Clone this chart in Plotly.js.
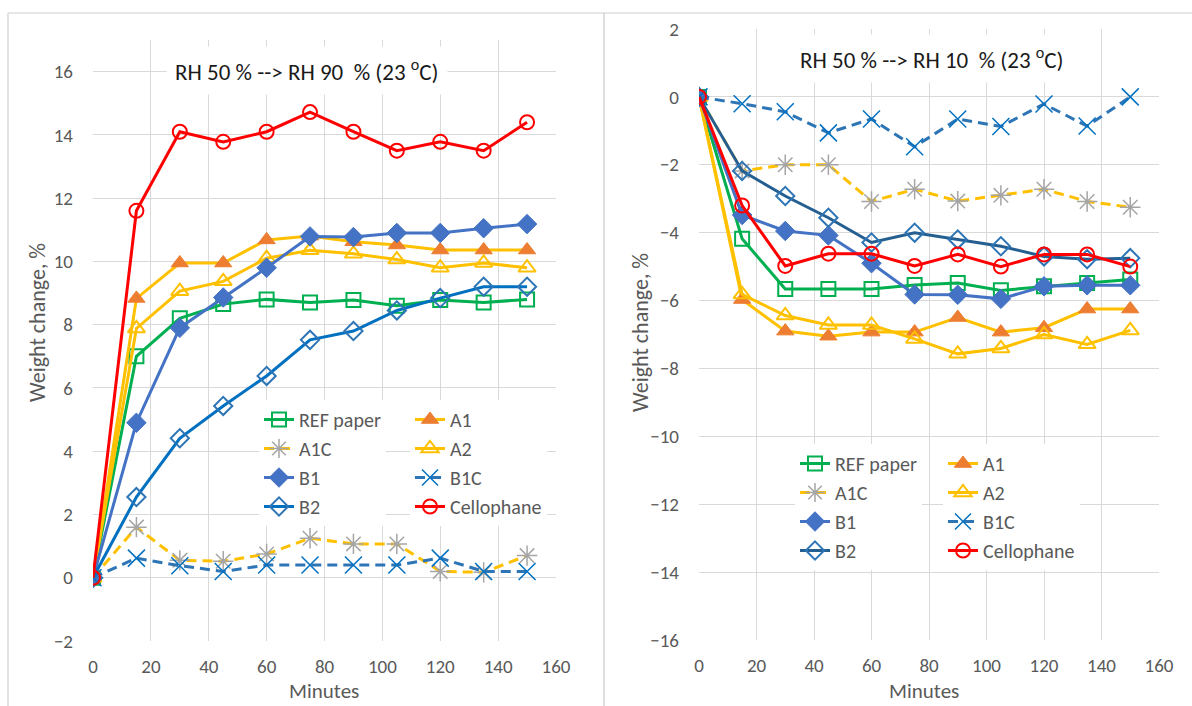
<!DOCTYPE html>
<html>
<head>
<meta charset="utf-8">
<script src="https://cdn.plot.ly/plotly-3.0.1.min.js"></script>
<style>html,body{margin:0;padding:0;background:#fff;}#chart{width:1192px;height:706px;}</style>
</head>
<body>
<div id="chart"></div>
<script>
// ---- data ----
const minutes = [0, 15, 30, 45, 60, 75, 90, 105, 120, 135, 150];
const seriesNames = ["REF paper", "A1", "A1C", "A2", "B1", "B1C", "B2", "Cellophane"];

// RH 50 % --> RH 90 % (left panel)
const up_REF   = [0, 7.0, 8.2, 8.65, 8.8, 8.7, 8.78, 8.6, 8.78, 8.7, 8.8];
const up_A1    = [0, 8.83, 9.95, 9.95, 10.68, 10.8, 10.62, 10.52, 10.36, 10.36, 10.36];
const up_A1C   = [0, 1.6, 0.55, 0.52, 0.75, 1.25, 1.07, 1.07, 0.2, 0.17, 0.7];
const up_A2    = [0, 7.88, 9.06, 9.37, 10.1, 10.35, 10.24, 10.06, 9.8, 9.95, 9.8];
const up_B1    = [0, 4.9, 7.9, 8.86, 9.8, 10.79, 10.77, 10.9, 10.9, 11.05, 11.18];
const up_B1C   = [0, 0.62, 0.38, 0.2, 0.4, 0.4, 0.4, 0.4, 0.62, 0.2, 0.2];
const up_B2    = [0, 2.55, 4.41, 5.43, 6.38, 7.52, 7.8, 8.45, 8.84, 9.2, 9.2];
const up_Cello = [0, 11.6, 14.1, 13.78, 14.1, 14.72, 14.1, 13.5, 13.78, 13.5, 14.4];

// RH 50 % --> RH 10 % (right panel)
const dn_REF   = [0, -4.18, -5.66, -5.66, -5.66, -5.54, -5.48, -5.7, -5.58, -5.48, -5.38];
const dn_A1    = [0, -5.97, -6.9, -7.05, -6.93, -6.93, -6.5, -6.93, -6.8, -6.25, -6.25];
const dn_A1C   = [0, -2.18, -2.0, -2.0, -3.08, -2.72, -3.07, -2.9, -2.72, -3.08, -3.25];
const dn_A2    = [0, -5.82, -6.44, -6.72, -6.72, -7.13, -7.57, -7.41, -7.0, -7.29, -6.88];
const dn_B1    = [0, -3.48, -3.95, -4.08, -4.9, -5.82, -5.83, -5.95, -5.58, -5.55, -5.55];
const dn_B1C   = [0, -0.2, -0.44, -1.06, -0.65, -1.47, -0.65, -0.87, -0.21, -0.86, 0];
const dn_B2    = [0, -2.18, -2.92, -3.56, -4.29, -4.0, -4.2, -4.4, -4.7, -4.78, -4.75];
const dn_Cello = [0, -3.2, -4.98, -4.62, -4.62, -4.98, -4.64, -5.0, -4.64, -4.64, -5.0];

const xTicks = [0, 20, 40, 60, 80, 100, 120, 140, 160];
const titleLeft = "RH 50 % --> RH 90\u00a0 % (23 <sup>o</sup>C)";
const titleRight = "RH 50 % --> RH 10\u00a0 % (23 <sup>o</sup>C)";
const yTitle = "Weight change, %";
const xTitle = "Minutes";

// ---- styles ----
const FONT = "Carlito, Lato, 'Open Sans', sans-serif";
const styles = {
  "REF paper": {line: {color: "#00b050", width: 3}, marker: {symbol: "square-open", size: 14, color: "#00b050", line: {color: "#00b050", width: 2}}},
  "A1": {line: {color: "#ffc000", width: 3}, marker: {symbol: "triangle-up", size: 15, color: "#ed7d31", line: {color: "#ed7d31", width: 1}}},
  "A1C": {line: {color: "#ffc000", width: 3, dash: "10px,6px"}, marker: {symbol: "asterisk-open", size: 17, color: "#a5a5a5", line: {color: "#a5a5a5", width: 1.5}}},
  "A2": {line: {color: "#ffc000", width: 3}, marker: {symbol: "triangle-up-open", size: 15, color: "#ffc000", line: {color: "#ffc000", width: 2}}},
  "B1": {line: {color: "#4472c4", width: 3}, marker: {symbol: "diamond", size: 15, color: "#4472c4", line: {color: "#4472c4", width: 1}}},
  "B1C": {line: {color: "#2e75b6", width: 3, dash: "10px,6px"}, marker: {symbol: "x-thin-open", size: 17, color: "#0070c0", line: {color: "#0070c0", width: 1.5}}},
  "B2": {line: {color: "#0070c0", width: 3}, marker: {symbol: "diamond-open", size: 14, color: "#2e75b6", line: {color: "#2e75b6", width: 2}}},
  "Cellophane": {line: {color: "#ff0000", width: 3}, marker: {symbol: "circle-open", size: 14, color: "#ff0000", line: {color: "#ff0000", width: 2}}}
};
const colOne = ["REF paper", "A1C", "B1", "B2"];

const upData = {"REF paper": up_REF, "A1": up_A1, "A1C": up_A1C, "A2": up_A2, "B1": up_B1, "B1C": up_B1C, "B2": up_B2, "Cellophane": up_Cello};
const dnData = {"REF paper": dn_REF, "A1": dn_A1, "A1C": dn_A1C, "A2": dn_A2, "B1": dn_B1, "B1C": dn_B1C, "B2": dn_B2, "Cellophane": dn_Cello};

const traces = [];
function addPanel(data, xa, ya, legA, legB, prefix, b2color) {
  seriesNames.forEach(function (name) {
    const st = JSON.parse(JSON.stringify(styles[name]));
    if (name === "B2" && b2color) st.line.color = b2color;
    traces.push({
      type: "scatter", mode: "lines+markers",
      x: minutes, y: data[name], name: name,
      xaxis: xa, yaxis: ya,
      line: st.line, marker: st.marker,
      legend: colOne.indexOf(name) >= 0 ? legA : legB,
      legendgroup: prefix + name,
      showlegend: true
    });
  });
}
addPanel(upData, "x", "y", "legend", "legend2", "u_", null);
addPanel(dnData, "x2", "y2", "legend3", "legend4", "d_", "#255e91");

const W = 1192, H = 706;
const px = v => v / W, py = v => 1 - v / H;

function xAxis(domain, anchor) {
  return {domain: domain, anchor: anchor, range: [0, 160], tickvals: xTicks, showgrid: true,
    gridcolor: "#d9d9d9", gridwidth: 1, zeroline: false, showline: false, ticks: "",
    tickfont: {family: FONT, size: 19, color: "#595959"}, ticklabelstandoff: 12, fixedrange: true};
}
function yAxis(domain, anchor, range) {
  return {domain: domain, anchor: anchor, range: range, dtick: 2, tick0: 0, showgrid: true,
    gridcolor: "#d9d9d9", gridwidth: 1, zeroline: false, showline: false, ticks: "",
    tickfont: {family: FONT, size: 19, color: "#595959"}, ticklabelstandoff: 19, fixedrange: true};
}
function legendAt(x, y) {
  return {x: x, y: y, xanchor: "left", yanchor: "top", orientation: "v", bgcolor: "#ffffff",
    borderwidth: 0, tracegroupgap: 0, font: {family: FONT, size: 20, color: "#595959"},
    itemclick: false, itemdoubleclick: false};
}

const layout = {
  width: W, height: H,
  margin: {l: 0, r: 0, t: 0, b: 0},
  paper_bgcolor: "#ffffff", plot_bgcolor: "rgba(0,0,0,0)",
  font: {family: FONT, color: "#595959"},
  xaxis: xAxis([px(93), px(556)], "y"),
  yaxis: yAxis([1 - 641 / H, 1 - 40 / H], "x", [-2, 17]),
  xaxis2: xAxis([px(699), px(1159)], "y2"),
  yaxis2: yAxis([1 - 640 / H, 1 - 29 / H], "x2", [-16, 2]),
  legend: legendAt(px(259), py(400)),
  legend2: legendAt(px(410), py(400)),
  legend3: legendAt(px(795), py(444)),
  legend4: legendAt(px(943), py(444)),
  annotations: [
    {text: titleLeft, xref: "paper", yref: "paper", x: px(307), y: py(71), xanchor: "center", yanchor: "middle",
      showarrow: false, bgcolor: "#ffffff", borderpad: 8, font: {family: FONT, size: 23, color: "#1a1a1a"}},
    {text: titleRight, xref: "paper", yref: "paper", x: px(932), y: py(59), xanchor: "center", yanchor: "middle",
      showarrow: false, bgcolor: "#ffffff", borderpad: 8, font: {family: FONT, size: 23, color: "#1a1a1a"}},
    {text: yTitle, xref: "paper", yref: "paper", x: px(37), y: py(323), textangle: -90, xanchor: "center", yanchor: "middle",
      showarrow: false, font: {family: FONT, size: 22, color: "#595959"}},
    {text: yTitle, xref: "paper", yref: "paper", x: px(641), y: py(333), textangle: -90, xanchor: "center", yanchor: "middle",
      showarrow: false, font: {family: FONT, size: 22, color: "#595959"}},
    {text: xTitle, xref: "paper", yref: "paper", x: px(324), y: py(691), xanchor: "center", yanchor: "middle",
      showarrow: false, font: {family: FONT, size: 21, color: "#595959"}},
    {text: xTitle, xref: "paper", yref: "paper", x: px(924), y: py(691), xanchor: "center", yanchor: "middle",
      showarrow: false, font: {family: FONT, size: 21, color: "#595959"}}
  ],
  shapes: [
    {type: "line", xref: "paper", yref: "paper", x0: px(8), x1: 1, y0: py(13), y1: py(13), line: {color: "#d0d0d0", width: 1.2}},
    {type: "line", xref: "paper", yref: "paper", x0: px(8), x1: px(8), y0: py(13), y1: 0, line: {color: "#d0d0d0", width: 1.2}},
    {type: "line", xref: "paper", yref: "paper", x0: px(604), x1: px(604), y0: py(13), y1: 0, line: {color: "#c8c8c8", width: 1.2}}
  ]
};

Plotly.newPlot("chart", traces, layout, {displayModeBar: false, staticPlot: false});
</script>
</body>
</html>
